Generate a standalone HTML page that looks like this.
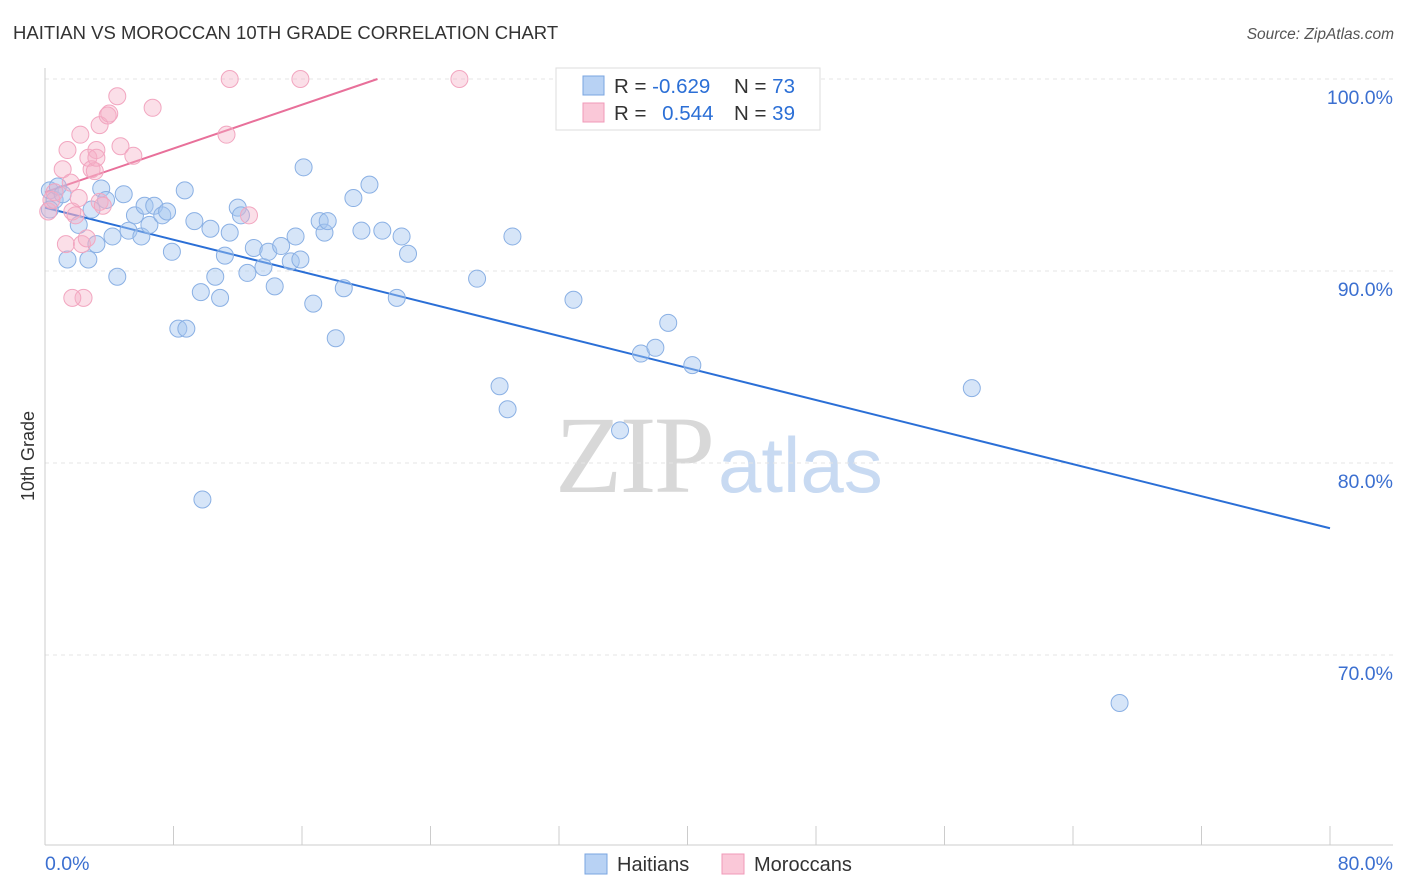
<!DOCTYPE html>
<html><head><meta charset="utf-8"><style>
body{margin:0;background:#fff;font-family:"Liberation Sans",sans-serif;}
svg{display:block}
</style></head><body>
<svg id="chart" width="1406" height="892">
<text x="13" y="39" font-size="18.5" fill="#333">HAITIAN VS MOROCCAN 10TH GRADE CORRELATION CHART</text>
<text x="1394" y="39" font-size="15.5" fill="#555" text-anchor="end" font-style="italic">Source: ZipAtlas.com</text>
<g>
<text x="555" y="492" font-size="110" font-family="Liberation Serif,serif" fill="#d8d8d8" textLength="160">ZIP</text>
<text x="718" y="492" font-size="78" fill="#c8daf2">atlas</text>
</g>
<g id="grid"></g>
<g id="axes"></g>
<g id="lines"></g>
<g id="dots"></g>
<text transform="translate(34,456) rotate(-90)" font-size="18" fill="#333" text-anchor="middle">10th Grade</text>
<text x="45" y="870" font-size="19.5" fill="#3b6fd0">0.0%</text>
<text x="1393" y="870" font-size="19.5" fill="#3b6fd0" text-anchor="end">80.0%</text>
<g>
<rect x="556" y="68" width="264" height="62" fill="#fff" stroke="#ddd"/>
<rect x="583" y="76" width="21" height="19" fill="#b8d2f4" stroke="#7aa5e0"/>
<rect x="583" y="103" width="21" height="19" fill="#fac8d8" stroke="#f09ab8"/>
<text x="614" y="93" font-size="20.5" fill="#333">R = <tspan fill="#2b6fd6">-0.629</tspan></text>
<text x="734" y="93" font-size="20.5" fill="#333">N = <tspan fill="#2b6fd6">73</tspan></text>
<text x="614" y="120" font-size="20.5" fill="#333">R = <tspan fill="#2b6fd6" dx="10">0.544</tspan></text>
<text x="734" y="120" font-size="20.5" fill="#333">N = <tspan fill="#2b6fd6">39</tspan></text>
</g>
<g>
<rect x="585" y="854" width="22" height="20" fill="#b8d2f4" stroke="#7aa5e0"/>
<text x="617" y="871" font-size="20" fill="#333">Haitians</text>
<rect x="722" y="854" width="22" height="20" fill="#fac8d8" stroke="#f09ab8"/>
<text x="754" y="871" font-size="20" fill="#333">Moroccans</text>
</g>
</svg>
<script>
const yTicks=[100,90,80,70];
const xTicks=[0,8,16,24,32,40,48,56,64,72,80];
const haitianX=[.3,.6,.8,1.1,1.4,2.1,2.7,2.9,3.2,3.5,3.8,4.2,4.5,4.9,5.2,5.6,6.0,6.2,6.5,6.8,7.3,7.6,7.9,8.3,8.8,8.7,9.3,9.7,10.3,10.6,10.9,11.2,11.5,12.0,12.2,12.6,13.0,13.6,13.9,14.3,14.7,15.3,15.6,15.9,16.1,16.7,17.1,17.4,17.6,18.1,18.6,19.2,19.7,20.2,21.0,21.9,22.2,22.6,26.9,28.3,28.8,29.1,32.9,35.8,37.1,38.0,38.8,40.3,57.7,66.9,32.4,9.8,.3];
const haitianY=[94.2,93.7,94.4,94.0,90.6,92.4,90.6,93.2,91.4,94.3,93.7,91.8,89.7,94.0,92.1,92.9,91.8,93.4,92.4,93.4,92.9,93.1,91.0,87.0,87.0,94.2,92.6,88.9,92.2,89.7,88.6,90.8,92.0,93.3,92.9,89.9,91.2,90.2,91.0,89.2,91.3,90.5,91.8,90.6,95.4,88.3,92.6,92.0,92.6,86.5,89.1,93.8,92.1,94.5,92.1,88.6,91.8,90.9,89.6,84.0,82.8,91.8,88.5,81.7,85.7,86.0,87.3,85.1,83.9,67.5,100,78.1,93.2];
const moroccanX=[.2,.4,.6,1.1,1.3,1.4,1.6,1.7,1.9,2.1,2.2,2.3,2.4,2.6,2.7,2.9,3.1,3.2,3.2,3.4,3.4,3.6,3.9,4.0,4.5,4.7,5.5,6.7,11.3,11.5,12.7,15.9,25.8,1.7];
const moroccanY=[93.1,93.7,94.1,95.3,91.4,96.3,94.6,93.1,92.9,93.8,97.1,91.4,88.6,91.7,95.9,95.3,95.2,96.3,95.9,97.6,93.6,93.4,98.1,98.2,99.1,96.5,96.0,98.5,97.1,100,92.9,100,100,88.6];
const haitianTrend=[[0,93.3],[80,76.6]];
const moroccanTrend=[[0,94.1],[20.7,100]];
const NS='http://www.w3.org/2000/svg';
const sx=v=>45+v*1285/80, sy=v=>79+(100-v)*19.2;
function mk(p,t,a){const e=document.createElementNS(NS,t);for(const k in a)e.setAttribute(k,a[k]);document.getElementById(p).appendChild(e);return e;}
yTicks.forEach(v=>{
 const g=mk('grid','line',{x1:45,x2:1393,y1:sy(v),y2:sy(v),stroke:'#e4e4e4','stroke-dasharray':'4,4'});
 
 
 const t=mk('grid','text',{x:1393,y:sy(v)+25,'font-size':19.5,fill:'#3b6fd0','text-anchor':'end'});
 t.textContent=v.toFixed(1)+'%';
 
 
});
const ax=mk('axes','line',{x1:45,x2:45,y1:68,y2:845,stroke:'#ccc'});


const bx=mk('axes','line',{x1:45,x2:1393,y1:845,y2:845,stroke:'#ccc'});


xTicks.forEach(v=>{
 const t=mk('axes','line',{x1:sx(v),x2:sx(v),y1:826,y2:845,stroke:'#ccc'});
 
 
});
haitianX.forEach((x,i)=>{
 const c=mk('dots','circle',{cx:sx(x),cy:sy(haitianY[i]),r:8.5,fill:'rgba(165,198,240,0.45)',stroke:'#8ab0e4','stroke-width':1});
 
 
});
moroccanX.forEach((x,i)=>{
 const c=mk('dots','circle',{cx:sx(x),cy:sy(moroccanY[i]),r:8.5,fill:'rgba(245,175,198,0.4)',stroke:'#f2a6c0','stroke-width':1});
 
 
});
const l1=mk('lines','line',{x1:sx(haitianTrend[0][0]),y1:sy(haitianTrend[0][1]),x2:sx(haitianTrend[1][0]),y2:sy(haitianTrend[1][1]),stroke:'#2b6fd6','stroke-width':2});


const l2=mk('lines','line',{x1:sx(moroccanTrend[0][0]),y1:sy(moroccanTrend[0][1]),x2:sx(moroccanTrend[1][0]),y2:sy(moroccanTrend[1][1]),stroke:'#e8709a','stroke-width':2});


</script>
</body></html>
